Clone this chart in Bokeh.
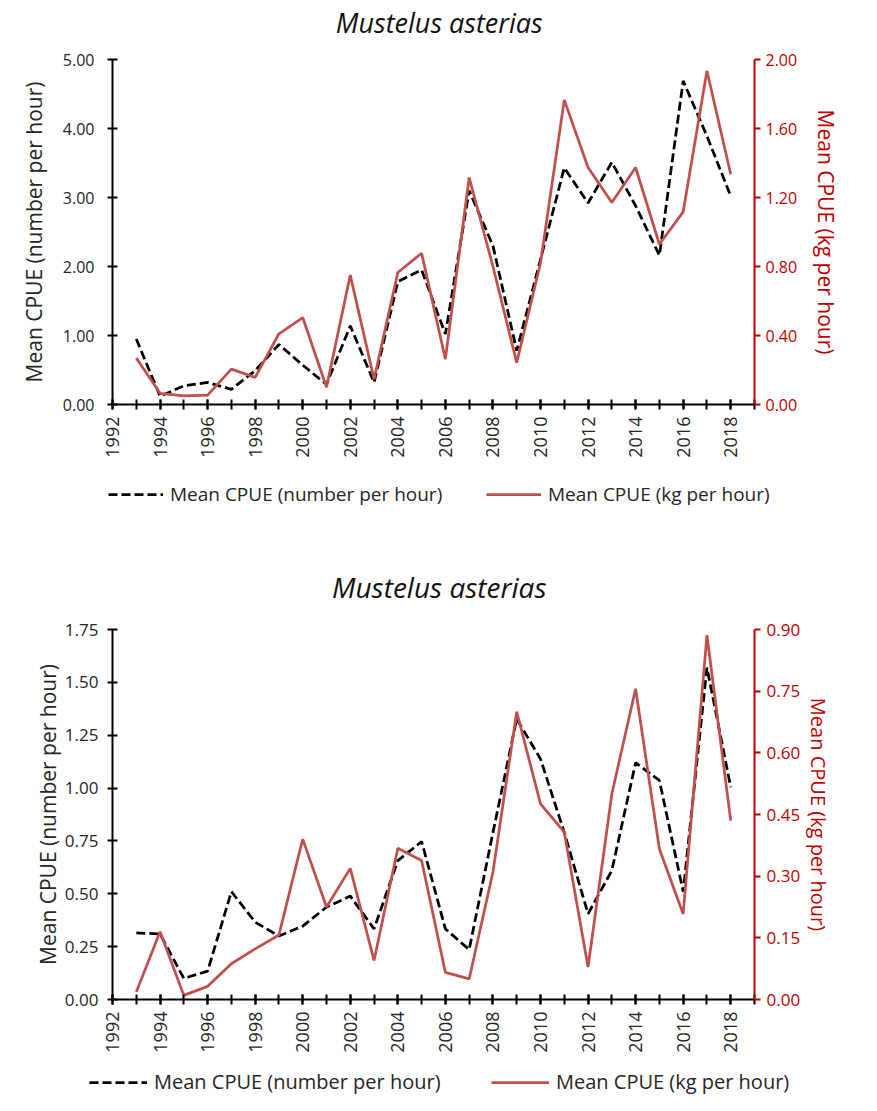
from bokeh.plotting import figure
from bokeh.models import (Range1d, LinearAxis, SingleIntervalTicker, NumeralTickFormatter,
                          Legend, LegendItem)
from bokeh.core.properties import value
from bokeh.layouts import column
from bokeh.embed import file_html
from bokeh.resources import INLINE
import math

years = list(range(1993, 2019))

# Top chart
top_number = [0.95, 0.12, 0.27, 0.32, 0.22, 0.49, 0.87, 0.57, 0.29, 1.14, 0.32, 1.78, 1.95,
              1.02, 3.10, 2.30, 0.78, 2.10, 3.43, 2.92, 3.51, 2.88, 2.16, 4.69, 3.89, 3.02]
top_kg = [0.27, 0.065, 0.05, 0.054, 0.205, 0.157, 0.41, 0.504, 0.10, 0.75, 0.147, 0.765, 0.877,
          0.263, 1.316, 0.80, 0.243, 0.82, 1.766, 1.374, 1.171, 1.374, 0.929, 1.117, 1.934, 1.335]

# Bottom chart
bot_number = [0.315, 0.31, 0.10, 0.134, 0.51, 0.366, 0.30, 0.347, 0.437, 0.489, 0.334, 0.657, 0.747,
              0.334, 0.236, 0.79, 1.327, 1.138, 0.79, 0.405, 0.61, 1.12, 1.036, 0.51, 1.57, 1.004]
bot_kg = [0.018, 0.165, 0.01, 0.032, 0.087, 0.123, 0.157, 0.39, 0.225, 0.319, 0.095, 0.368, 0.338,
          0.066, 0.05, 0.31, 0.70, 0.476, 0.407, 0.079, 0.50, 0.756, 0.366, 0.208, 0.886, 0.435]

title_text = "Mustelus asterias"
left_label = "Mean CPUE (number per hour)"
right_label = "Mean CPUE (kg per hour)"
legend_labels = ["Mean CPUE (number per hour)", "Mean CPUE (kg per hour)"]

FONT = "Open Sans"
AXIS_RED = "#C00000"
LINE_RED = "#C0504D"
TEXT = "#262626"
W = 861
DASH = "9 4"
LW = 2.75


def bare_fig(height, fixed_frame):
    if fixed_frame:
        size = dict(frame_width=W, frame_height=height)
    else:
        size = dict(width=W, height=height)
    p = figure(output_backend="svg", toolbar_location=None,
               x_range=Range1d(0, 1), y_range=Range1d(0, 1),
               x_axis_location=None, y_axis_location=None,
               min_border=0, min_border_left=0, min_border_right=0,
               min_border_top=0, min_border_bottom=0, **size)
    p.outline_line_color = None
    p.xgrid.visible = False
    p.ygrid.visible = False
    return p


def title_fig(height, ty, fs):
    p = bare_fig(height, False)
    p.text(x=[0.509], y=[ty], text=[title_text], text_align="center",
           text_baseline="middle", text_font=value(FONT), text_font_size=fs,
           text_font_style="italic", text_color="#111111")
    return p


def legend_fig(height, number, kg, fs, glyph_w, spacing, label_w, loc):
    p = bare_fig(height, True)
    # the series themselves, outside this strip's visible range: only their legend glyphs show
    r1 = p.line(years, number, line_color="black", line_width=LW, line_dash=DASH)
    r2 = p.line(years, kg, line_color=LINE_RED, line_width=LW)
    legend = Legend(items=[LegendItem(label=legend_labels[0], renderers=[r1]),
                           LegendItem(label=legend_labels[1], renderers=[r2])],
                    orientation="horizontal", location=loc,
                    glyph_width=glyph_w, spacing=spacing, padding=0, margin=0,
                    label_standoff=7, label_width=label_w,
                    label_text_font=FONT, label_text_font_size=fs,
                    label_text_color=TEXT,
                    border_line_color=None, background_fill_alpha=0)
    p.add_layout(legend)
    return p


def style_axis(ax, color, text_color, fs, lfs):
    ax.axis_line_color = color
    ax.axis_line_width = 2
    ax.major_tick_line_color = color
    ax.major_tick_line_width = 2
    ax.minor_tick_line_color = color
    ax.minor_tick_line_width = 2
    ax.major_tick_in = 5
    ax.major_tick_out = 5
    ax.minor_tick_in = 0
    ax.minor_tick_out = 0
    ax.major_label_text_color = text_color
    ax.major_label_text_font = FONT
    ax.major_label_text_font_size = fs
    ax.axis_label_text_color = text_color
    ax.axis_label_text_font = FONT
    ax.axis_label_text_font_size = lfs
    ax.axis_label_text_font_style = "normal"


def chart(height, bl, br, bt, bb, yl_max, yl_step, yr_max, yr_step, number, kg,
          yfs, xfs, lfs, rlfs, l_mstand, l_stand, r_mstand, r_stand):
    p = figure(width=W, height=height, output_backend="svg", toolbar_location=None,
               x_range=Range1d(1992, 2019), y_range=Range1d(0, yl_max),
               min_border_left=bl, min_border_right=br, min_border_top=bt,
               min_border_bottom=bb)
    p.outline_line_color = None
    p.xgrid.visible = False
    p.ygrid.visible = False
    p.extra_y_ranges = {"kg": Range1d(0, yr_max)}

    xa = p.xaxis[0]
    xa.ticker = SingleIntervalTicker(interval=2, num_minor_ticks=2)
    style_axis(xa, "black", TEXT, xfs, lfs)
    xa.minor_tick_in = 5
    xa.minor_tick_out = 5
    xa.major_label_standoff = 7
    xa.major_label_orientation = math.pi / 2

    ya = p.yaxis[0]
    ya.ticker = SingleIntervalTicker(interval=yl_step, num_minor_ticks=0)
    ya.formatter = NumeralTickFormatter(format="0.00")
    ya.axis_label = left_label
    style_axis(ya, "black", TEXT, yfs, lfs)
    ya.major_label_standoff = l_mstand
    ya.axis_label_standoff = l_stand

    ra = LinearAxis(y_range_name="kg", axis_label=right_label)
    ra.ticker = SingleIntervalTicker(interval=yr_step, num_minor_ticks=0)
    ra.formatter = NumeralTickFormatter(format="0.00")
    style_axis(ra, AXIS_RED, AXIS_RED, yfs, rlfs)
    ra.major_tick_in = 0
    ra.major_tick_out = 6
    ra.major_label_standoff = r_mstand
    ra.axis_label_standoff = r_stand
    p.add_layout(ra, "right")

    p.line(years, number, line_color="black", line_width=LW, line_dash=DASH)
    p.line(years, kg, line_color=LINE_RED, line_width=LW, y_range_name="kg")
    return p


t1 = title_fig(49, 0.551, "27px")
c1 = chart(413, 112, 107, 10, 58, 5, 1.0, 2.0, 0.4, top_number, top_kg,
           "16px", "18px", "21px", "21px", 13, 12, 5, 12)
l1 = legend_fig(54, top_number, top_kg, "19px", 55, 40, 276, (108, 9))
t2 = title_fig(103, 0.311, "28px")
c2 = chart(436, 95, 86, 10, 56, 1.75, 0.25, 0.9, 0.15, bot_number, bot_kg,
           "17px", "18px", "21px", "20px", 9, 0, 6, 2)
l2 = legend_fig(40, bot_number, bot_kg, "20px", 58, 40, 297, (89, 0))

layout = column(t1, c1, l1, t2, c2, l2)
open("out.html", "w").write(file_html(layout, INLINE))
